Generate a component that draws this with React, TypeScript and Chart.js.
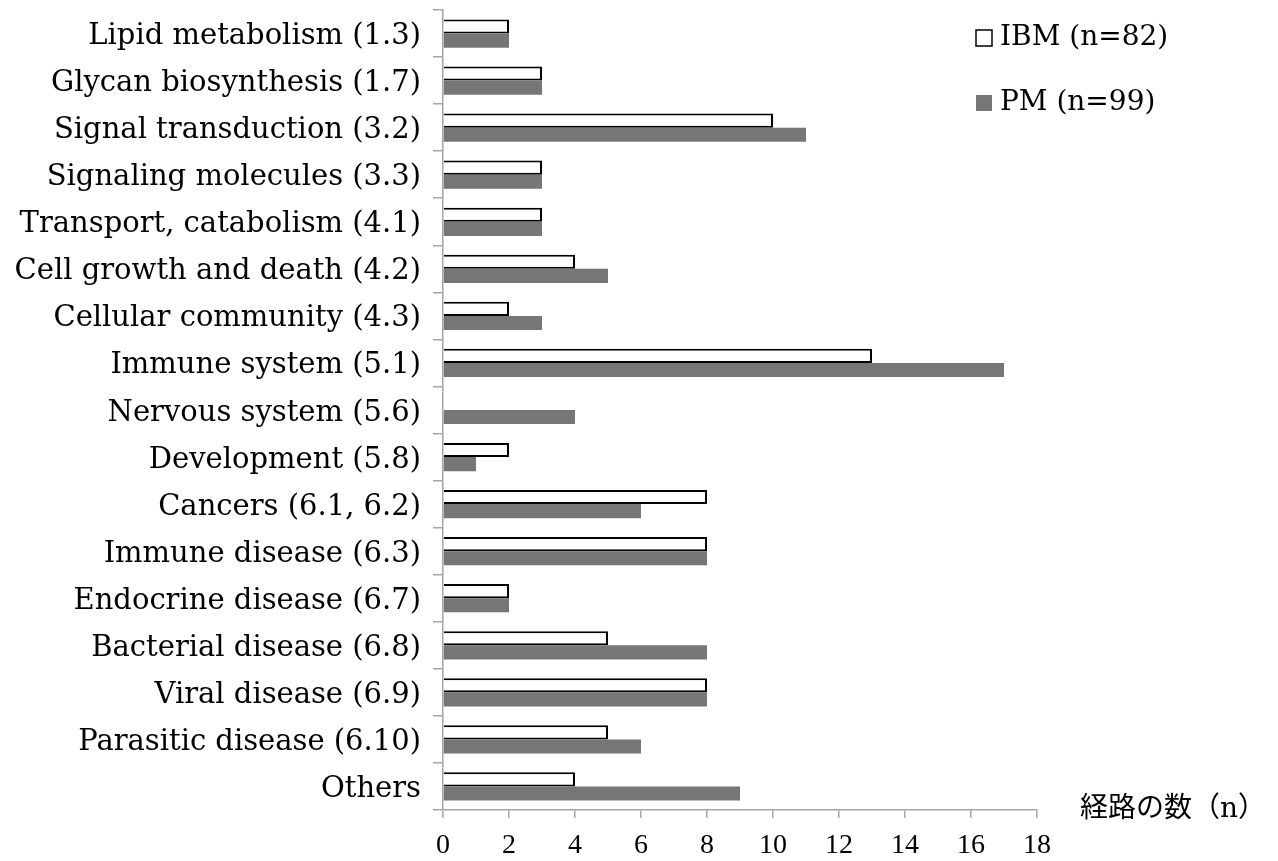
import React, { useEffect, useRef } from "react";
import { Chart, registerables } from "chart.js";

Chart.register(...registerables);

// Pathway categories (KEGG class in parentheses), listed top to bottom
const categories = [
  "Lipid metabolism (1.3)",
  "Glycan biosynthesis (1.7)",
  "Signal transduction (3.2)",
  "Signaling molecules (3.3)",
  "Transport, catabolism (4.1)",
  "Cell growth and death (4.2)",
  "Cellular community (4.3)",
  "Immune system (5.1)",
  "Nervous system (5.6)",
  "Development (5.8)",
  "Cancers (6.1, 6.2)",
  "Immune disease (6.3)",
  "Endocrine disease (6.7)",
  "Bacterial disease (6.8)",
  "Viral disease (6.9)",
  "Parasitic disease (6.10)",
  "Others",
];

// Number of pathways per category
const ibmValues = [2, 3, 10, 3, 3, 4, 2, 13, 0, 2, 8, 8, 2, 5, 8, 5, 4];
const pmValues = [2, 3, 11, 3, 3, 5, 3, 17, 4, 1, 6, 8, 2, 8, 8, 6, 9];

const seriesLabels = ["IBM (n=82)", "PM (n=99)"];
const xAxisTitle = "経路の数（n）";
const xMin = 0;
const xMax = 18;
const xStep = 2;

const FONT = '"DejaVu Serif", "Noto Sans CJK JP", serif';
const NUM_FONT = '"Liberation Serif", "DejaVu Serif", serif';
const AXIS_GREY = "#a6a6a6";
const PM_GREY = "#767676";

// Legend drawn inside the plot region, top right
const legendPlugin = {
  id: "cornerLegend",
  afterDraw(chart: any) {
    const { ctx } = chart;
    ctx.save();
    ctx.font = `28px ${FONT}`;
    ctx.textBaseline = "middle";
    ctx.textAlign = "left";
    chart.data.datasets.forEach((ds: any, i: number) => {
      const cy = 38 + i * 65;
      const bx = 976;
      const size = 16;
      ctx.fillStyle = ds.backgroundColor;
      ctx.fillRect(bx, cy - size / 2, size, size);
      if (ds.legendStroke) {
        ctx.lineWidth = 1.5;
        ctx.strokeStyle = ds.borderColor;
        ctx.strokeRect(bx, cy - size / 2, size, size);
      }
      ctx.fillStyle = "#000";
      ctx.fillText(ds.label, 1000, cy);
    });
    ctx.restore();
  },
};

// Axis title placed at the right end of the x axis
const axisTitlePlugin = {
  id: "xAxisTitle",
  afterDraw(chart: any) {
    const { ctx } = chart;
    ctx.save();
    ctx.font = `28px ${FONT}`;
    ctx.textBaseline = "middle";
    ctx.textAlign = "left";
    ctx.fillStyle = "#000";
    ctx.fillText(xAxisTitle, chart.chartArea.right + 43, chart.chartArea.bottom);
    ctx.restore();
  },
};

export default function App() {
  const canvasRef = useRef<HTMLCanvasElement | null>(null);

  useEffect(() => {
    document.body.style.margin = "0";
    const canvas = canvasRef.current;
    if (!canvas) return;
    const chart = new Chart(canvas, {
      type: "bar",
      data: {
        labels: categories,
        datasets: [
          {
            label: seriesLabels[0],
            data: ibmValues,
            backgroundColor: "#ffffff",
            borderColor: "#000000",
            borderWidth: (c: any) => (c.raw === 0 ? 0 : 2),
            legendStroke: true,
            categoryPercentage: 0.6,
            barPercentage: 1.0,
          },
          {
            label: seriesLabels[1],
            data: pmValues,
            backgroundColor: PM_GREY,
            borderColor: PM_GREY,
            borderWidth: 0,
            categoryPercentage: 0.6,
            barPercentage: 1.0,
          },
        ],
      },
      options: {
        indexAxis: "y",
        responsive: false,
        animation: false,
        layout: { padding: { top: 10, right: 241, bottom: 0, left: 0 } },
        plugins: {
          legend: { display: false },
          tooltip: { enabled: false },
        },
        scales: {
          x: {
            min: xMin,
            max: xMax,
            ticks: {
              stepSize: xStep,
              color: "#000",
              font: { family: NUM_FONT, size: 28 },
              padding: 11,
            },
            grid: {
              display: true,
              drawOnChartArea: false,
              drawTicks: true,
              tickLength: 8,
              color: AXIS_GREY,
              lineWidth: 1.5,
            },
            border: { display: true, color: AXIS_GREY, width: 1.5 },
            afterFit: (s: any) => {
              s.height = 51;
            },
          },
          y: {
            ticks: {
              color: "#000",
              font: { family: FONT, size: 29 },
              padding: 12,
              labelOffset: 3,
              autoSkip: false,
            },
            grid: {
              display: true,
              offset: true,
              drawOnChartArea: false,
              drawTicks: true,
              tickLength: 10,
              color: AXIS_GREY,
              lineWidth: 1.5,
            },
            border: { display: true, color: AXIS_GREY, width: 1.5 },
            afterFit: (s: any) => {
              s.width = 443;
              s.paddingTop = 0;
              s.paddingBottom = 0;
            },
          },
        },
      },
      plugins: [legendPlugin, axisTitlePlugin],
    } as any);
    return () => chart.destroy();
  }, []);

  return (
    <div style={{ width: 1278, height: 861 }}>
      <canvas ref={canvasRef} width={1278} height={861} style={{ display: "block" }} />
    </div>
  );
}
